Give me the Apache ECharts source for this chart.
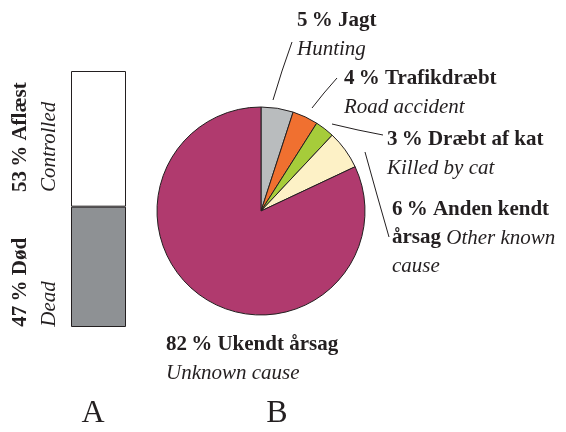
<!DOCTYPE html>
<html>
<head>
<meta charset="utf-8">
<script src="https://cdn.jsdelivr.net/npm/echarts@6/dist/echarts.min.js"></script>
<style>
html, body { margin: 0; padding: 0; background: #fff; }
#main { width: 566px; height: 432px; }
</style>
</head>
<body>
<div id="main"></div>
<script>
// A: bar (bottom to top)
var barNames = ['Død', 'Aflæst'];
var barEnNames = ['Dead', 'Controlled'];
var barVals = [47, 53];
// B: pie (clockwise from top)
var pieNames = ['Jagt', 'Trafikdræbt', 'Dræbt af kat', 'Anden kendt\nårsag', 'Ukendt årsag'];
var pieEnNames = ['Hunting', 'Road accident', 'Killed by cat', 'Other known\ncause', 'Unknown cause'];
var pieVals = [5, 4, 3, 6, 82];
var panelLetters = ['A', 'B'];

var FONT = '"Liberation Serif", "DejaVu Serif", serif';
var INK = '#231f20';
var barColors = ['#8e9194', '#ffffff'];
var pieColors = ['#b9bcbe', '#f07030', '#a6cc3a', '#fdf1c6', '#b03a6e'];

// where each pie label sits (top-left) and its leader line
var labelPos = [[297, 7], [344, 65], [387, 126], [392, 196], [166, 331]];
var labelJoin = ['\n', '\n', '\n', ' ', '\n'];
var leaders = [
	[[273, 100], [282, 71], [292, 42]],
	[[312, 108], [324, 93], [337, 78]],
	[[332, 124], [358, 130], [383, 135]],
	[[365, 152], [377, 195], [389, 237]],
	null
];

var rich = {
	b: { fontFamily: FONT, fontWeight: 'bold', fontSize: 21, color: INK, lineHeight: 28 },
	i: { fontFamily: FONT, fontStyle: 'italic', fontSize: 21, color: INK, lineHeight: 28 },
	s: { fontFamily: FONT, fontSize: 21, color: INK, lineHeight: 28 }
};

function pct(v) {
	return v + '\u2009%';
}

var barSeries = [];
for (var i = 0; i < barVals.length; i++) {
	barSeries.push({
		name: barNames[i],
		type: 'bar',
		stack: 'a',
		barWidth: '100%',
		data: [barVals[i]],
		itemStyle: { color: barColors[i], borderColor: INK, borderWidth: 1 },
		label: {
			show: true,
			position: [-36, i == 0 ? 120 : 121],
			rotate: 90,
			align: 'left',
			verticalAlign: 'middle',
			formatter: '{b|' + pct(barVals[i]) + ' ' + barNames[i] + '}\n{i|' + barEnNames[i] + '}',
			rich: rich
		},
		silent: true
	});
}

var pieData = [];
for (var j = 0; j < pieVals.length; j++) {
	pieData.push({
		name: pieNames[j],
		value: pieVals[j],
		itemStyle: { color: pieColors[j] },
		labelLine: { show: leaders[j] != null }
	});
}

var option = {
	animation: false,
	backgroundColor: '#fff',
	grid: { left: 71, top: 71, width: 55, height: 256 },
	xAxis: { type: 'category', data: [panelLetters[0]], show: false },
	yAxis: { type: 'value', min: 0, max: 100, show: false },
	series: barSeries.concat([{
		type: 'pie',
		center: [261, 211],
		radius: 104,
		startAngle: 90,
		clockwise: true,
		silent: true,
		data: pieData,
		itemStyle: { borderColor: INK, borderWidth: 1 },
		label: {
			show: true,
			position: 'outside',
			overflow: 'none',
			formatter: function(p) {
				var k = p.dataIndex;
				var join = labelJoin[k] == ' ' ? '{s| }' : labelJoin[k];
				return '{b|' + pct(pieVals[k]) + ' ' + pieNames[k] + '}' + join + '{i|' + pieEnNames[k] + '}';
			},
			rich: rich
		},
		labelLine: { lineStyle: { color: INK, width: 1 } },
		labelLayout: function(params) {
			var k = params.dataIndex;
			var out = { x: labelPos[k][0], y: labelPos[k][1], align: 'left', verticalAlign: 'top', width: 260 };
			if (leaders[k]) out.labelLinePoints = leaders[k];
			return out;
		}
	}]),
	graphic: [
		{ type: 'text', x: 93, y: 414, style: { text: panelLetters[0], font: '32px ' + FONT, fill: INK, textAlign: 'center', textVerticalAlign: 'middle' } },
		{ type: 'text', x: 277, y: 414, style: { text: panelLetters[1], font: '32px ' + FONT, fill: INK, textAlign: 'center', textVerticalAlign: 'middle' } }
	]
};

var chart = echarts.init(document.getElementById('main'));
chart.setOption(option);
</script>
</body>
</html>
